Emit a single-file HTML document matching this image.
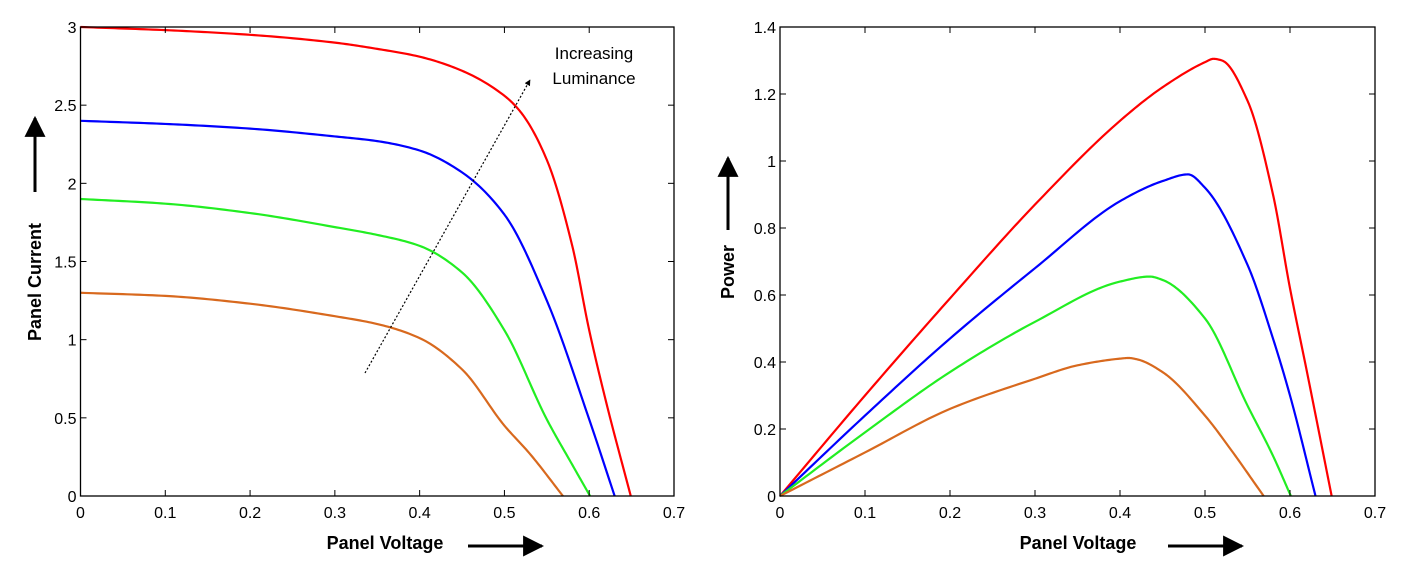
<!DOCTYPE html>
<html><head><meta charset="utf-8"><style>
html,body{margin:0;padding:0;background:#fff;}
svg{display:block;font-family:"Liberation Sans",Arial,sans-serif;}
</style></head><body>
<svg id="chart" width="1412" height="578" viewBox="0 0 1412 578" xmlns="http://www.w3.org/2000/svg">
<defs>
<marker id="ah" viewBox="0 0 10 10" refX="9" refY="5" markerWidth="7" markerHeight="7" orient="auto"><path d="M0,0 L10,5 L0,10 z" fill="#000"/></marker>
<marker id="ahs" viewBox="0 0 10 10" refX="9" refY="5" markerWidth="5" markerHeight="5" orient="auto"><path d="M0,0 L10,5 L0,10 z" fill="#000"/></marker>
</defs>
<g id="left"></g>
<g id="right"></g>
<g>
<line x1="365" y1="373" x2="530" y2="80" stroke="#000" stroke-width="1.2" stroke-dasharray="2,2" marker-end="url(#ahs)"/>
<text x="594" y="59" font-size="17" text-anchor="middle">Increasing</text>
<text x="594" y="84" font-size="17" text-anchor="middle">Luminance</text>
<text x="385" y="549" font-size="18" font-weight="bold" text-anchor="middle">Panel Voltage</text>
<line x1="468" y1="546" x2="542" y2="546" stroke="#000" stroke-width="3" marker-end="url(#ah)"/>
<text transform="translate(41,282) rotate(-90)" font-size="18" font-weight="bold" text-anchor="middle">Panel Current</text>
<line x1="35" y1="192" x2="35" y2="118" stroke="#000" stroke-width="3" marker-end="url(#ah)"/>
<text x="1078" y="549" font-size="18" font-weight="bold" text-anchor="middle">Panel Voltage</text>
<line x1="1168" y1="546" x2="1242" y2="546" stroke="#000" stroke-width="3" marker-end="url(#ah)"/>
<text transform="translate(734,272) rotate(-90)" font-size="18" font-weight="bold" text-anchor="middle">Power</text>
<line x1="728" y1="230" x2="728" y2="158" stroke="#000" stroke-width="3" marker-end="url(#ah)"/>
</g>
</svg>
<script>
const xTicks = [0,0.1,0.2,0.3,0.4,0.5,0.6,0.7];
const xTickLabels = ["0","0.1","0.2","0.3","0.4","0.5","0.6","0.7"];
const ivYTicks = [0,0.5,1,1.5,2,2.5,3];
const ivYTickLabels = ["0","0.5","1","1.5","2","2.5","3"];
const pYTicks = [0,0.2,0.4,0.6,0.8,1,1.2,1.4];
const pYTickLabels = ["0","0.2","0.4","0.6","0.8","1","1.2","1.4"];
const seriesColors = ["#ff0000","#0000ff","#22ee22","#d8691e"];

const redV   = [0,0.1,0.2,0.3,0.35,0.4,0.45,0.5,0.52,0.55,0.58,0.6,0.62,0.649];
const redI   = [3.0,2.98,2.95,2.9,2.86,2.81,2.72,2.56,2.45,2.15,1.6,1.06,0.6,0];
const blueV  = [0,0.1,0.2,0.3,0.35,0.4,0.45,0.5,0.55,0.6,0.63];
const blueI  = [2.4,2.38,2.35,2.3,2.27,2.21,2.07,1.8,1.25,0.49,0];
const greenV = [0,0.1,0.2,0.3,0.35,0.4,0.45,0.5,0.55,0.58,0.601];
const greenI = [1.9,1.87,1.81,1.72,1.67,1.6,1.43,1.06,0.49,0.2,0];
const orangeV= [0,0.1,0.2,0.3,0.35,0.4,0.45,0.5,0.53,0.569];
const orangeI= [1.3,1.28,1.23,1.15,1.1,1.01,0.81,0.45,0.27,0];

const redPV   = [0,0.1,0.2,0.3,0.4,0.45,0.5,0.51,0.52,0.55,0.58,0.6,0.62,0.649];
const redP    = [0,0.3,0.59,0.87,1.12,1.22,1.295,1.305,1.3,1.18,0.9,0.62,0.37,0];
const bluePV  = [0,0.1,0.2,0.3,0.4,0.45,0.48,0.5,0.55,0.58,0.6,0.63];
const blueP   = [0,0.24,0.47,0.68,0.88,0.94,0.96,0.92,0.69,0.47,0.3,0];
const greenPV = [0,0.1,0.2,0.3,0.4,0.435,0.45,0.5,0.55,0.58,0.601];
const greenP  = [0,0.19,0.37,0.52,0.64,0.655,0.645,0.53,0.27,0.12,0];
const orangePV= [0,0.1,0.2,0.3,0.35,0.4,0.41,0.42,0.45,0.5,0.53,0.569];
const orangeP = [0,0.13,0.26,0.35,0.39,0.41,0.412,0.408,0.37,0.24,0.14,0];

const NS="http://www.w3.org/2000/svg";
function mk(parent,tag,attrs){const e=document.createElementNS(NS,tag);for(const k in attrs)e.setAttribute(k,attrs[k]);parent.appendChild(e);return e;}
function smooth(xv,yv){
  const n=xv.length, d=[], m=[];
  for(let i=0;i<n-1;i++) d.push((yv[i+1]-yv[i])/(xv[i+1]-xv[i]));
  m[0]=d[0]; m[n-1]=d[n-2];
  for(let i=1;i<n-1;i++){
    if(d[i-1]*d[i]<=0) m[i]=0;
    else { const h0=xv[i]-xv[i-1], h1=xv[i+1]-xv[i]; const w1=2*h1+h0, w2=h1+2*h0; m[i]=(w1+w2)/(w1/d[i-1]+w2/d[i]); }
  }
  const out=[];
  for(let i=0;i<n-1;i++){
    const h=xv[i+1]-xv[i];
    for(let k=0;k<20;k++){
      const t=k/20, t2=t*t, t3=t2*t;
      const y=(2*t3-3*t2+1)*yv[i]+(t3-2*t2+t)*h*m[i]+(-2*t3+3*t2)*yv[i+1]+(t3-t2)*h*m[i+1];
      out.push([xv[i]+t*h,y]);
    }
  }
  out.push([xv[n-1],yv[n-1]]);
  return out;
}
function drawChart(g,L,R,T,B,yMax,yTicks,yLabels,series,prefix){
  const xs=v=>L+v/0.7*(R-L), ys=v=>B-v/yMax*(B-T);
  series.forEach((s,i)=>{
    const pts=smooth(s.x,s.y).map(p=>xs(p[0]).toFixed(2)+","+ys(p[1]).toFixed(2));
    const p=mk(g,"polyline",{points:pts.join(" "),fill:"none",stroke:seriesColors[i],"stroke-width":2.2,"stroke-linejoin":"round"});
    
    
  });
  const box=mk(g,"rect",{x:L,y:T,width:R-L,height:B-T,fill:"none",stroke:"#000","stroke-width":1.3});
  
  
  xTicks.forEach((v,i)=>{
    const x=xs(v);
    mk(g,"line",{x1:x,y1:B,x2:x,y2:B-6,stroke:"#000","stroke-width":1});
    mk(g,"line",{x1:x,y1:T,x2:x,y2:T+6,stroke:"#000","stroke-width":1});
    const t=mk(g,"text",{x:x,y:B+22,"font-size":16,"text-anchor":"middle"});
    t.textContent=xTickLabels[i];
    
    
  });
  yTicks.forEach((v,i)=>{
    const y=ys(v);
    mk(g,"line",{x1:L,y1:y,x2:L+6,y2:y,stroke:"#000","stroke-width":1});
    mk(g,"line",{x1:R,y1:y,x2:R-6,y2:y,stroke:"#000","stroke-width":1});
    const t=mk(g,"text",{x:L-4,y:y+6,"font-size":16,"text-anchor":"end"});
    t.textContent=yLabels[i];
    
    
  });
}
drawChart(document.getElementById("left"),80.5,674,27,496,3,ivYTicks,ivYTickLabels,[
  {n:"red",x:redV,y:redI},{n:"blue",x:blueV,y:blueI},{n:"green",x:greenV,y:greenI},{n:"orange",x:orangeV,y:orangeI}],"iv");
drawChart(document.getElementById("right"),780,1375,27,496,1.4,pYTicks,pYTickLabels,[
  {n:"red",x:redPV,y:redP},{n:"blue",x:bluePV,y:blueP},{n:"green",x:greenPV,y:greenP},{n:"orange",x:orangePV,y:orangeP}],"power");
</script>
</body></html>
